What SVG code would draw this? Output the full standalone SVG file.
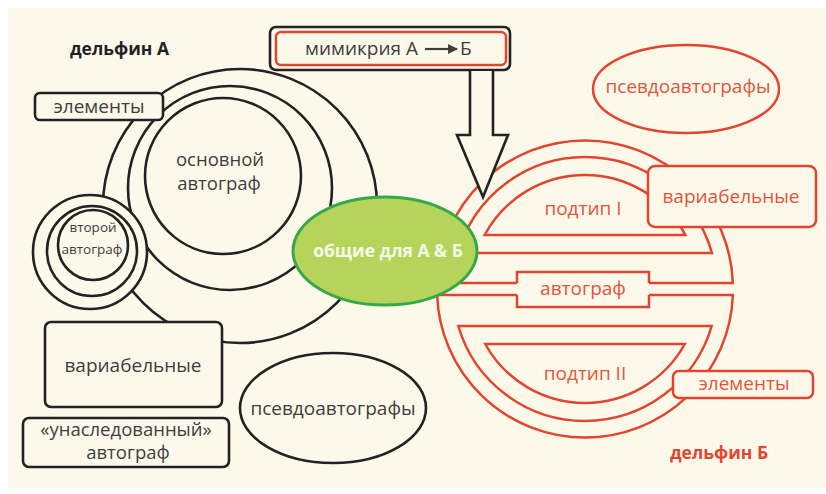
<svg xmlns="http://www.w3.org/2000/svg" width="826" height="494" viewBox="0 0 826 494">
<defs>
<style>
.bk{fill:none;stroke:#222;stroke-width:2.6}
.bkf{fill:#fdf9ea;stroke:#222;stroke-width:2.6}
.rd{fill:#fdf9ea;stroke:#e2452f;stroke-width:2.5}
.t{font-family:"Open Sans","Noto Sans","DejaVu Sans",sans-serif;font-size:19px;fill:#3d3d3d;text-anchor:middle}
.tr{font-family:"Open Sans","Noto Sans","DejaVu Sans",sans-serif;font-size:19px;fill:#e0553c;text-anchor:middle}
.b{font-family:"Open Sans","Noto Sans","DejaVu Sans",sans-serif;font-size:17.5px;font-weight:bold}
</style>
<marker id="ah" viewBox="0 0 10 10" refX="9" refY="5" markerWidth="4.5" markerHeight="4.5" orient="auto"><path d="M0 0 L10 5 L0 10 Z" fill="#3d3d3d"/></marker>
</defs>
<rect x="0" y="0" width="826" height="494" fill="#ffffff"/>
<rect x="8" y="8" width="818" height="480" fill="#fdf9ea"/>

<g id="dolphinA-circles">
<circle class="bk" cx="240" cy="206" r="137"/>
<circle class="bk" cx="230" cy="188" r="102"/>
<circle class="bkf" cx="223" cy="176" r="78"/>
<text class="t" x="220" y="166" style="font-size:18.5px">основной</text>
<text class="t" x="219" y="190" style="font-size:18.5px">автограф</text>
</g>

<g id="dolphinB-structure">
<path class="rd" d="M437.1 283 A148 148 0 0 1 732.9 283 L649 283 L649 272 L517 272 L517 283 Z"/>
<path class="rd" d="M437.1 295 A148 148 0 0 0 732.9 295 L649 295 L649 307 L517 307 L517 295 Z"/>
<path class="rd" d="M458 253 A132 132 0 0 1 712 253 Z"/>
<path class="rd" d="M484.6 235 A114 114 0 0 1 685.4 235 Z"/>
<path class="rd" d="M458.3 326 A132 132 0 0 0 711.7 326 Z"/>
<path class="rd" d="M485.2 344 A114 114 0 0 0 684.8 344 Z"/>
<rect x="517" y="283" width="132" height="12" fill="#fdf9ea"/>
<text class="tr" x="583" y="215">подтип I</text>
<text class="tr" x="583" y="295">автограф</text>
<text class="tr" x="585" y="380">подтип II</text>
</g>

<g id="second-autograph">
<circle class="bkf" cx="90" cy="252" r="57"/>
<circle class="bkf" cx="92" cy="251" r="45"/>
<circle class="bkf" cx="93" cy="245" r="35"/>
<text class="t" x="93" y="232" style="font-size:13.5px">второй</text>
<text class="t" x="92" y="254" style="font-size:13.5px">автограф</text>
</g>

<g id="elements-A">
<rect class="bkf" x="35" y="93" width="128" height="27" rx="5"/>
<text class="t" x="99" y="113">элементы</text>
</g>

<g id="variable-A">
<rect class="bkf" x="45" y="322" width="177" height="85" rx="6"/>
<text class="t" x="133" y="372">вариабельные</text>
</g>

<g id="inherited-A">
<rect class="bkf" x="23" y="418" width="206" height="49" rx="6"/>
<text class="t" x="126" y="436" style="font-size:18.5px">«унаследованный»</text>
<text class="t" x="128" y="459" style="font-size:18.5px">автограф</text>
</g>

<g id="pseudo-A">
<ellipse class="bkf" cx="333" cy="408" rx="93" ry="55"/>
<text class="t" x="333" y="415">псевдоавтографы</text>
</g>

<g id="label-A">
<text class="b" x="70" y="55" fill="#222">дельфин А</text>
</g>

<g id="pseudo-B">
<ellipse class="rd" cx="686" cy="89" rx="93" ry="44"/>
<text class="tr" x="688" y="93">псевдоавтографы</text>
</g>

<g id="variable-B">
<rect class="rd" x="648" y="166" width="168" height="61" rx="7"/>
<text class="tr" x="731" y="203">вариабельные</text>
</g>

<g id="elements-B">
<rect class="rd" x="673" y="371" width="140" height="27" rx="6"/>
<text class="tr" x="744" y="390">элементы</text>
</g>

<g id="label-B">
<text class="b" x="670" y="459" fill="#e2452f">дельфин Б</text>
</g>

<g id="mimicry">
<rect class="bkf" x="270" y="27" width="240" height="43" rx="6"/>
<rect class="rd" x="276" y="32" width="230" height="33" rx="5"/>
<text class="t" x="305" y="55" style="text-anchor:start">мимикрия А</text>
<text class="t" x="460" y="55" style="text-anchor:start">Б</text>
</g>

<g id="connectors">
<line x1="425" y1="49" x2="457" y2="49" stroke="#3d3d3d" stroke-width="2.2" marker-end="url(#ah)"/>
<path class="bkf" d="M470 71 L470 135 L457 135 L483 197 L508 135 L493 135 L493 71"/>
</g>

<g id="common">
<ellipse cx="385" cy="251" rx="92" ry="54" fill="#b6d45a" stroke="#36a84a" stroke-width="3"/>
<text class="b" x="388" y="257" fill="#f6f9ea" text-anchor="middle" style="font-size:17.5px">общие для А &amp; Б</text>
</g>
</svg>
